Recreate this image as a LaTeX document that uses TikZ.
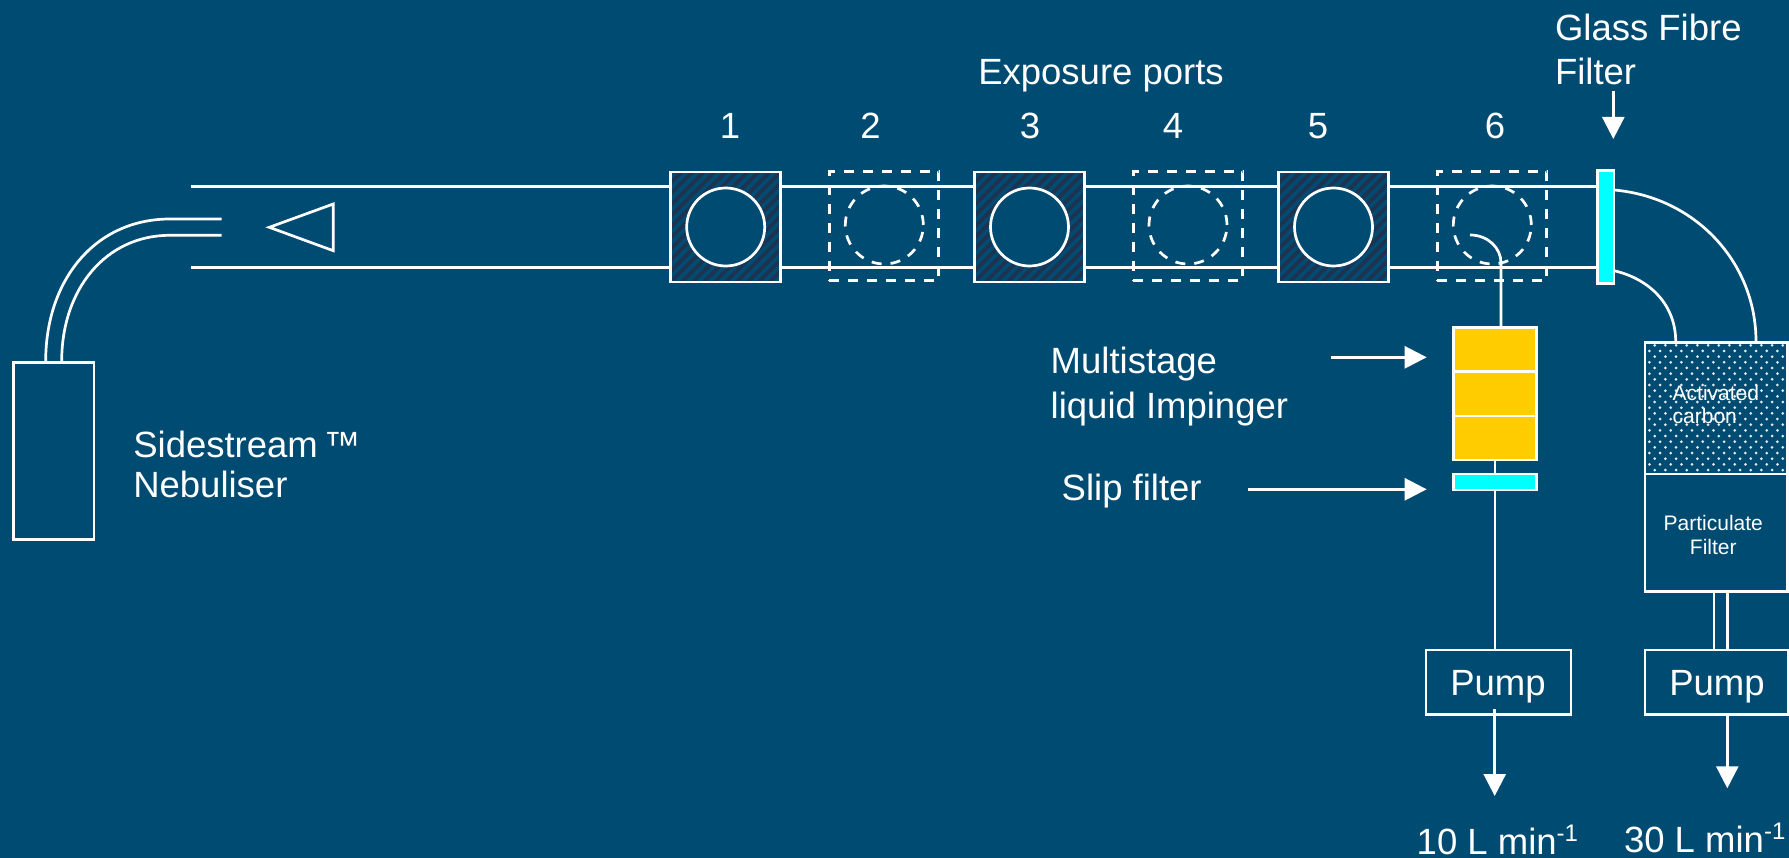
\documentclass[tikz,border=0pt]{standalone}
\usepackage{fontspec}
\setmainfont{Liberation Sans}
\usetikzlibrary{arrows.meta}
\definecolor{bg}{HTML}{004B72}
\definecolor{stripe}{HTML}{1E3350}
\definecolor{cyanf}{HTML}{00FFFF}
\definecolor{goldf}{HTML}{FFCC00}
\tikzset{
  ln/.style={draw=white,line width=2.7pt},
  box/.style={ln,rectangle,inner sep=0pt,outer sep=0pt},
  arr/.style={white,line width=2.7pt,-{Triangle[width=22pt,length=22pt]}},
  dsh/.style={dash pattern=on 10pt off 9pt},
  big/.style={text=white,inner sep=0pt,outer sep=0pt,font=\fontsize{36.5}{40}\selectfont,anchor=base west},
  small/.style={text=white,inner sep=0pt,outer sep=0pt,font=\fontsize{21}{23}\selectfont,anchor=base west},
  port/.style={box,minimum width=110pt,minimum height=110pt,fill=bg,
    path picture={
      \foreach \i in {-12,...,12}
        \draw[stripe,line width=3.6pt] ([xshift=\i*11pt]path picture bounding box.south west) -- ++(130,-130);
    }},
  dport/.style={box,dsh,minimum width=109.4pt,minimum height=109.4pt},
  hole/.style={ln,circle,minimum size=78pt,inner sep=0pt,outer sep=0pt,fill=bg},
  dhole/.style={ln,dsh,circle,minimum size=78pt,inner sep=0pt,outer sep=0pt},
  carbonbox/.style={box,fill=bg,
    path picture={
      \foreach \r in {0,...,24}{
        \pgfmathsetmacro{\off}{mod(\r,2)*5.33}
        \foreach \c in {0,...,14}
          \fill[white!88!bg] ([xshift=\c*10.67pt+\off pt-1pt,yshift=\r*5.67pt+4pt]path picture bounding box.south west) circle[radius=1.5pt];
      }
    }},
}
\begin{document}
\begin{tikzpicture}[x=1pt,y=-1pt]
\useasboundingbox (0,0) rectangle (1789,858);
\fill[bg] (0,0) rectangle (1789,858);

% pipe
\coordinate (ptl) at (191,186.7);
\coordinate (pbl) at (191,267.3);
\coordinate (ptr) at (1598,186.7);
\coordinate (pbr) at (1598,267.3);
\draw[ln] (ptl) -- (ptr);
\draw[ln] (pbl) -- (pbr);

% ports
\node[port] (p1) at (725.7,227) {};
\node[hole] (c1) at (725.7,227) {};
\node[dport] (p2) at (884,226) {};
\node[dhole] (c2) at (884.3,225) {};
\node[port] (p3) at (1029.5,227) {};
\node[hole] (c3) at (1029.5,227) {};
\node[dport] (p4) at (1188,226) {};
\node[dhole] (c4) at (1188,225) {};
\node[port] (p5) at (1333.5,227) {};
\node[hole] (c5) at (1333.5,227) {};
\node[dport] (p6) at (1492,226) {};
\node[dhole] (c6) at (1492.3,225) {};

% glass fibre filter
\node[box,fill=cyanf,minimum width=16.5pt,minimum height=112.5pt] (gf) at (1605.7,227) {};

% nebuliser
\node[box,minimum width=80.7pt,minimum height=177pt] (neb) at (53.7,450.8) {};
\coordinate (na) at (45.7,361);
\coordinate (nb) at (61.7,361);
\coordinate (nc) at (221.7,219);
\coordinate (nd) at (221.7,235.3);
\draw[ln] (na) .. controls (45.7,280) and (95,219) .. (170,219) -- (nc);
\draw[ln] (nb) .. controls (61.7,290) and (105,235.3) .. (170,235.3) -- (nd);
\coordinate (ta) at (269.3,227.3);
\coordinate (tb) at (333.3,204);
\coordinate (tc) at (333.3,250.7);
\draw[ln] (ta) -- (tb) -- (tc) -- cycle;

% carbon + particulate
\node[carbonbox,minimum width=142.3pt,minimum height=131.7pt] (carb) at (1716.2,408.2) {};
\node[box,minimum width=142.3pt,minimum height=117.7pt] (part) at (1716.2,532.9) {};
\coordinate (co) at (1756,341.5);
\coordinate (ci) at (1675.7,341.5);
\draw[ln] (1614,190) .. controls (1695,197) and (1756,262) .. (co);
\draw[ln] (1614,270.7) .. controls (1650,279) and (1675.7,305) .. (ci);

% impinger
\node[box,fill=goldf,minimum width=83.4pt,minimum height=132.3pt] (imp) at (1495,393.8) {};
\coordinate (d1l) at (1453.3,371.7);
\coordinate (d1r) at (1536.7,371.7);
\coordinate (d2l) at (1453.3,416);
\coordinate (d2r) at (1536.7,416);
\draw[ln] (d1l) -- (d1r);
\draw[ln] (d2l) -- (d2r);
\coordinate (tt) at (1470,235);
\coordinate (tu) at (1501,327.7);
\draw[ln] (tt) .. controls (1488,235) and (1501,248) .. (1501,263) -- (tu);
\node[box,fill=cyanf,minimum width=83.4pt,minimum height=16pt] (slip) at (1495,482) {};
\draw[ln] (imp.south) -- (slip.north);

% pumps
\node[box,minimum width=145pt,minimum height=64.3pt] (pump1) at (1498.5,682.2) {};
\node[box,minimum width=143.3pt,minimum height=64.3pt] (pump2) at (1716.7,682.2) {};
\node[big,anchor=base] (pt1) at (1498,695) {Pump};
\node[big,anchor=base] (pt2) at (1717,695) {Pump};
\draw[ln] (slip.south) -- (slip.south |- pump1.north);
\coordinate (ds1) at (1494.7,709);
\coordinate (de1) at (1494.7,796);
\draw[arr] (ds1) -- (de1);
\coordinate (ds2) at (1727.3,714.3);
\coordinate (de2) at (1727.3,788.3);
\draw[arr] (ds2) -- (de2);
\coordinate (dl1) at (1714,591.7);
\coordinate (dl2) at (1714,650);
\coordinate (dr1) at (1727.3,591.7);
\coordinate (dr2) at (1727.3,650);
\draw[ln] (dl1) -- (dl2);
\draw[ln] (dr1) -- (dr2);

% label arrows
\coordinate (ga) at (1613.3,91);
\coordinate (gb) at (1613.3,139);
\draw[arr] (ga) -- (gb);
\coordinate (ma) at (1331,357.3);
\coordinate (mb) at (1426.7,357.3);
\draw[arr] (ma) -- (mb);
\coordinate (sa) at (1248.3,489.3);
\coordinate (sb) at (1426.7,489.3);
\draw[arr] (sa) -- (sb);

% labels
\node[big] (l1) at (978.3,84.3) {Exposure ports};
\node[big,anchor=base] (n1) at (730,139) {1};
\node[big,anchor=base] (n2) at (870.6,139) {2};
\node[big,anchor=base] (n3) at (1030,139) {3};
\node[big,anchor=base] (n4) at (1173,139) {4};
\node[big,anchor=base] (n5) at (1318,139) {5};
\node[big,anchor=base] (n6) at (1495,139) {6};
\node[big] (g1) at (1555,40.7) {Glass Fibre};
\node[big] (g2) at (1555,84.7) {Filter};
\node[big] (m1) at (1050.7,373.3) {Multistage};
\node[big] (m2) at (1050.7,418.3) {liquid Impinger};
\node[big] (sl) at (1061.7,500.7) {Slip filter};
\node[big] (s1) at (133.3,457.7) {Sidestream\,™};
\node[big] (s2) at (133.3,497.7) {Nebuliser};
\node[big] (f1) at (1416.7,854) {10 L min\raisebox{13pt}{\fontsize{24}{24}\selectfont -1}};
\node[big] (f2) at (1624,852.3) {30 L min\raisebox{13pt}{\fontsize{24}{24}\selectfont -1}};
\node[small] (a1) at (1672.7,400.7) {Activated};
\node[small] (a2) at (1672.7,423.3) {carbon};
\node[small,anchor=base] (q1) at (1713.3,530.7) {Particulate};
\node[small,anchor=base] (q2) at (1713.3,554) {Filter};
\end{tikzpicture}
\end{document}
